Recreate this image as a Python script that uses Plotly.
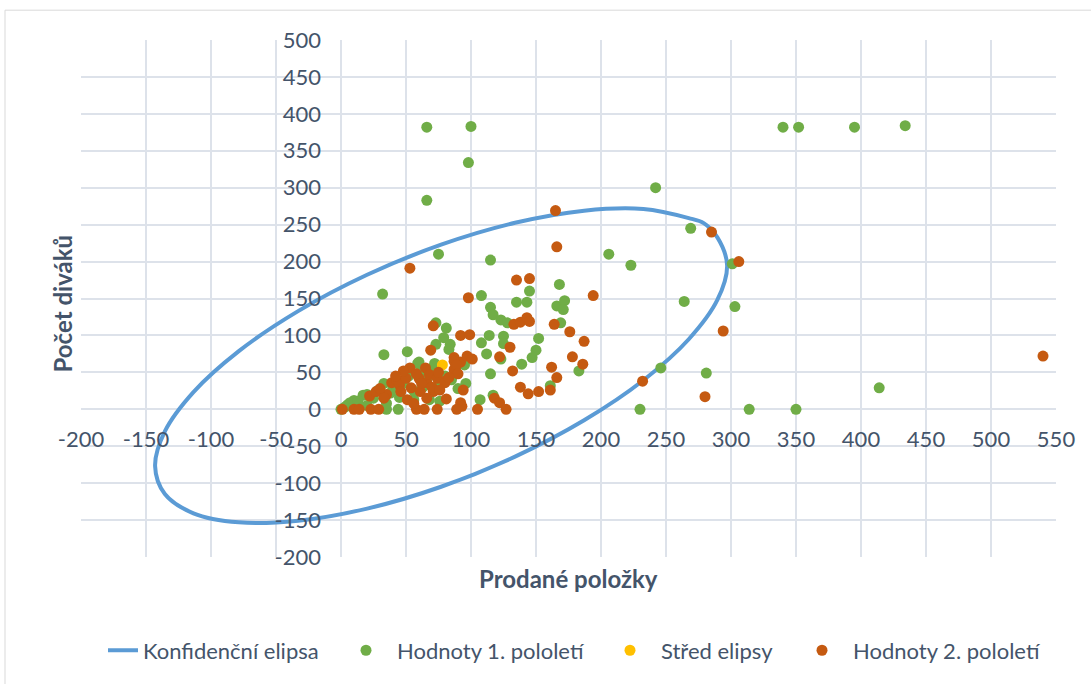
import plotly.graph_objects as go

# Confidence ellipse outline
ellipse_x = [279, 289.5, 297, 289.5, 267.5, 232.6, 187, 133.9, 77, 20.1, -33, -78.6, -113.5, -135.5,
             -143, -135.5, -113.5, -78.6, -33, 20.1, 77, 133.9, 187, 232.6, 267.5, 279]
ellipse_y = [252, 232.8, 195, 148, 94.8, 39.3, -14.9, -64.1, -104.9, -134.5, -150.9, -153.1, -140.8, -114.8,
             -77, -30, 23.2, 78.7, 132.9, 182.1, 222.9, 252.5, 268.9, 271.1, 258.8, 252]

# First half-year values
h1_x = [66, 100, 98, 66, 75, 32, 115, 242, 269, 206, 223, 301, 303, 264, 340, 352, 395, 434, 246, 281, 414,
        230, 314, 350, 168, 145, 135, 143, 108, 166, 172, 171, 169, 115, 117, 123, 128, 152, 150, 147, 139,
        183, 161, 108, 114, 112, 115, 125, 125, 123, 107, 117, 96, 60, 33, 51, 73, 81, 79, 73, 84, 83,
        59, 75, 68, 76, 56, 45, 44, 35, 33, 17, 10, 5, 7, 13, 20, 35, 0, 3, 25, 28, 40, 48, 52, 62, 66,
        70, 80, 88, 85, 90, 20, 38, 56, 63, 72, 95]
h1_y = [382, 383, 334, 283, 210, 156, 202, 300, 245, 210, 195, 197, 139, 146, 382, 382, 382, 384, 56, 49, 29,
        0, 0, 0, 169, 160, 145, 145, 154, 140, 147, 135, 117, 138, 128, 121, 117, 96, 80, 70, 61,
        52, 32, 90, 100, 75, 48, 99, 89, 68, 13, 19, 35, 64, 74, 78, 117, 110, 97, 88, 88, 81,
        62, 31, 13, 11, 13, 16, 0, 0, 35, 19, 12, 6, 9, 11, 20, 8, 0, 3, 15, 25, 28, 35, 45, 50, 40,
        55, 45, 55, 40, 28, 5, 22, 25, 30, 62, 60]

# Ellipse centre
centre_x = [78]
centre_y = [60]

# Second half-year values
h2_x = [53, 165, 166, 285, 306, 294, 540, 232, 280, 135, 145, 98, 194, 71, 69, 92, 99, 133, 138, 143, 145,
        164, 176, 187, 130, 122, 87, 92, 97, 101, 132, 162, 178, 186, 166, 138, 144, 152, 161, 80, 81, 92,
        93, 94, 105, 118, 122, 127, 1, 10, 14, 23, 29, 58, 64, 74, 89, 22, 27, 35, 39, 43, 45, 50, 51,
        53, 54, 60, 61, 65, 66, 68, 71, 74, 80, 87, 87, 89, 90, 75, 58, 48, 42, 30, 33, 56, 66, 62, 46,
        70, 76, 83]
h2_y = [191, 269, 220, 240, 200, 106, 72, 38, 17, 175, 177, 151, 154, 113, 80, 100, 101, 115, 118, 124, 119,
        115, 105, 92, 84, 71, 70, 64, 72, 68, 52, 57, 71, 61, 43, 30, 21, 24, 26, 38, 14, 9,
        4, 26, 0, 15, 9, 0, 0, 0, 0, 0, 0, 0, 0, 0, 0, 18, 24, 20, 36, 40, 33, 42, 13,
        56, 29, 42, 24, 56, 36, 47, 24, 42, 36, 65, 54, 60, 48, 50, 48, 52, 45, 28, 15, 8, 15, 35, 24,
        30, 26, 43]

x_ticks = list(range(-200, 551, 50))
y_ticks = list(range(-200, 501, 50))

TXT = "#44546A"
GRID = "#DDE2EA"
FONT = "Lato"


def px_x(p):
    return (p - 81) / 975


def px_y(p):
    return (560 - p) / 520


fig = go.Figure()
fig.add_trace(go.Scatter(x=ellipse_x, y=ellipse_y, mode="lines", name="Konfidenční elipsa",
                         line=dict(color="#5B9BD5", width=4, shape="spline", smoothing=1.0),
                         legend="legend"))
fig.add_trace(go.Scatter(x=h1_x, y=h1_y, mode="markers", name="Hodnoty 1. pololetí",
                         marker=dict(color="#70AD47", size=11), legend="legend2"))
fig.add_trace(go.Scatter(x=centre_x, y=centre_y, mode="markers", name="Střed elipsy",
                         marker=dict(color="#FFC000", size=11), legend="legend3"))
fig.add_trace(go.Scatter(x=h2_x, y=h2_y, mode="markers", name="Hodnoty 2. pololetí",
                         marker=dict(color="#C55A11", size=11), legend="legend4"))

leg_common = dict(orientation="h", yanchor="middle", y=px_y(654), xanchor="left",
                  font=dict(size=22, color=TXT), bgcolor="rgba(0,0,0,0)", borderwidth=0)

fig.update_layout(
    width=1091, height=684,
    margin=dict(l=81, r=35, t=40, b=124),
    paper_bgcolor="white", plot_bgcolor="white",
    font=dict(family=FONT, size=22, color=TXT),
    showlegend=True,
    legend=dict(leg_common, x=px_x(103)),
    legend2=dict(leg_common, x=px_x(335), itemwidth=52),
    legend3=dict(leg_common, x=px_x(599), itemwidth=52),
    legend4=dict(leg_common, x=px_x(791), itemwidth=52),
    xaxis=dict(range=[-200, 550], tickvals=x_ticks, ticktext=[str(v) for v in x_ticks],
               showgrid=True, gridcolor=GRID, gridwidth=1.5,
               zeroline=True, zerolinecolor=GRID, zerolinewidth=1.5,
               anchor="free", position=200/700, ticklabelstandoff=15,
               tickfont=dict(size=22, color=TXT),
               showline=False, fixedrange=True),
    yaxis=dict(range=[-200, 500], tickvals=y_ticks, ticktext=[str(v) for v in y_ticks],
               showgrid=True, gridcolor=GRID, gridwidth=1.5,
               zeroline=True, zerolinecolor=GRID, zerolinewidth=1.5,
               anchor="free", position=200/750, ticklabelstandoff=20,
               tickfont=dict(size=22, color=TXT),
               showline=False, fixedrange=True),
    annotations=[
        dict(text="<b>Počet diváků</b>", xref="paper", yref="paper", x=px_x(62), y=px_y(305),
             textangle=-90, showarrow=False, font=dict(size=24, color=TXT), xanchor="center", yanchor="middle"),
        dict(text="<b>Prodané položky</b>", xref="paper", yref="paper", x=px_x(568), y=px_y(582),
             showarrow=False, font=dict(size=24, color=TXT), xanchor="center", yanchor="middle"),
    ],
    shapes=[dict(type="rect", xref="paper", yref="paper", x0=px_x(5), x1=px_x(1100),
                 y0=px_y(700), y1=px_y(10), line=dict(color="#D9D9D9", width=1), layer="below")],
)

fig.write_html("out.html")
